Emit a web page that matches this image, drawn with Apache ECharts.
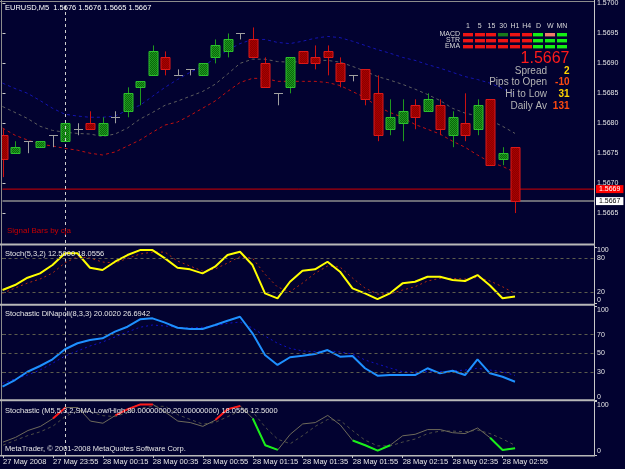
<!DOCTYPE html>
<html><head><meta charset="utf-8">
<script src="https://cdn.jsdelivr.net/npm/echarts@6/dist/echarts.min.js"></script>
<style>html,body{margin:0;padding:0;background:#020230;overflow:hidden}#c{width:625px;height:469px}</style>
</head><body><div id="c"></div>
<script>
// ---------- data ----------
const symbol = 'EURUSD', timeframe = 'M5';
const timeLabels = ['27 May 2008','27 May 23:55','28 May 00:15','28 May 00:35','28 May 00:55','28 May 01:15','28 May 01:35','28 May 01:55','28 May 02:15','28 May 02:35','28 May 02:55'];
const opens  = [1.5678,1.5675,1.5677,1.5676,1.5678,1.5677,1.5679,1.5680,1.5678,1.5681,1.5682,1.5686,1.5688,1.5691,1.5688,1.5689,1.5688,1.5691,1.5692,1.5695,1.5694,1.5690,1.5685,1.5686,1.5692,1.5691,1.5692,1.5690,1.5688,1.5689,1.5685,1.5679,1.5680,1.5683,1.5682,1.5683,1.5678,1.5680,1.5679,1.5684,1.5674,1.5676];
const highs  = [1.5679,1.5677,1.5677,1.5677,1.5678,1.5680,1.5680,1.5682,1.5681,1.5682,1.5686,1.5687,1.5693,1.5692,1.5689,1.5689,1.5690,1.5694,1.5695,1.5695,1.5696,1.5691,1.5685,1.5691,1.5692,1.5693,1.5693,1.5691,1.5688,1.5689,1.5688,1.5684,1.5684,1.5684,1.5685,1.5684,1.5682,1.5685,1.5684,1.5684,1.5676,1.5676];
const lows   = [1.5671,1.5675,1.5675,1.5676,1.5676,1.5677,1.5678,1.5679,1.5678,1.5680,1.5681,1.5683,1.5688,1.5688,1.5688,1.5688,1.5688,1.5690,1.5691,1.5694,1.5691,1.5686,1.5683,1.5685,1.5690,1.5689,1.5688,1.5686,1.5687,1.5683,1.5677,1.5678,1.5677,1.5679,1.5682,1.5678,1.5676,1.5677,1.5678,1.5673,1.5673,1.5665];
const closes = [1.5674,1.5676,1.5677,1.5677,1.5678,1.5680,1.5679,1.5679,1.5680,1.5681,1.5685,1.5687,1.5692,1.5689,1.5688,1.5689,1.5690,1.5693,1.5694,1.5695,1.5691,1.5686,1.5685,1.5691,1.5690,1.5690,1.5691,1.5687,1.5688,1.5684,1.5678,1.5681,1.5682,1.5681,1.5684,1.5679,1.5681,1.5678,1.5683,1.5673,1.5675,1.5667];
const bandUpper = [1.56867,1.56858,1.56850,1.56838,1.56825,1.56815,1.56812,1.56810,1.56810,1.56812,1.56822,1.56830,1.56845,1.56860,1.56873,1.56885,1.56895,1.56908,1.56922,1.56933,1.56940,1.56940,1.56935,1.56933,1.56937,1.56942,1.56945,1.56943,1.56937,1.56930,1.56923,1.56917,1.56910,1.56905,1.56898,1.56892,1.56885,1.56878,1.56873,1.56867,1.56858,1.56847];
const bandMiddle = [1.56828,1.56818,1.56808,1.56795,1.56788,1.56785,1.56783,1.56782,1.56778,1.56782,1.56792,1.56807,1.56818,1.56830,1.56837,1.56845,1.56853,1.56865,1.56882,1.56900,1.56907,1.56907,1.56903,1.56902,1.56903,1.56905,1.56905,1.56902,1.56895,1.56887,1.56878,1.56872,1.56865,1.56857,1.56848,1.56838,1.56825,1.56817,1.56812,1.56805,1.56795,1.56783];
const bandLower = [1.56792,1.56780,1.56772,1.56765,1.56762,1.56758,1.56755,1.56750,1.56747,1.56752,1.56762,1.56772,1.56785,1.56797,1.56802,1.56813,1.56825,1.56837,1.56853,1.56868,1.56875,1.56875,1.56870,1.56870,1.56870,1.56870,1.56868,1.56863,1.56853,1.56843,1.56828,1.56818,1.56810,1.56798,1.56790,1.56782,1.56770,1.56760,1.56747,1.56735,1.56728,1.56718];
const askPrice = 1.5669;
const stochMain   = [24.1,32.9,45.8,53.5,68.2,88.8,88.8,63.4,59.4,74.0,85.8,94.6,94.6,80.0,63.4,60.6,53.5,65.2,85.8,91.6,68.2,18.3,9.5,38.7,58.1,60.6,74.0,56.4,27.1,18.3,8.2,18.3,35.9,38.7,47.5,47.5,41.7,40.0,50.5,32.2,9.5,12.5];
const stochSignal = [18.3,27.6,36.4,43.5,54.0,72.2,82.8,80.5,73.5,71.7,80.0,87.6,91.0,91.0,75.2,66.4,57.6,61.1,71.7,82.8,80.5,52.0,29.4,21.1,36.4,53.5,66.4,64.7,45.3,27.6,17.0,17.0,24.1,29.9,40.0,44.7,44.7,43.5,46.5,40.0,29.9,18.0556];
const dinapoliMain   = [14.7,21.8,30.6,36.7,43.8,54.5,60.9,64.4,66.2,73.2,78.5,86.4,87.4,82.8,77.4,76.1,76.1,80.3,84.9,89.1,71.5,48.4,37.8,46.0,47.7,49.5,53.7,46.6,47.3,34.3,26.4,27.1,27.1,27.1,34.3,28.9,31.7,27.1,43.8,28.9,25.3,20.002];
const dinapoliSignal = [18.3,22.9,27.1,32.4,39.6,47.3,52.7,58.0,62.2,67.6,72.9,77.9,80.3,79.3,77.9,77.1,77.9,79.3,82.1,83.5,77.1,68.6,60.9,55.5,52.7,51.9,53.0,51.6,49.5,43.1,38.8,34.6,30.6,30.3,30.6,30.6,31.4,32.4,34.3,32.4,30.6,26.6942];
const overboughtRuns = [[4,5],[9,12],[17,19]];
const oversoldRuns   = [[20,22],[28,31],[39,41]];
const priceTicks = [1.5665,1.5670,1.5675,1.5680,1.5685,1.5690,1.5695,1.5700];
const stochLevels = [20,80];
const dinapoliLevels = [30,50,70];
const scaleTop = 100, scaleBottom = 0;
const timeTickBars = [0,4,8,12,16,20,24,28,32,36,40];
const tfLabels = ['1','5','15','30','H1','H4','D','W','MN'];
const rowLabels = ['MACD','STR','EMA'];
const macdSignals = ['down','down','down','upWeak','down','down','up','downWeak','up'];
const strSignals  = ['down','down','down','down','down','down','up','up','up'];
const emaSignals  = ['down','down','down','down','down','down','up','up','up'];
const infoLabels = ['Spread','Pips to Open','Hi to Low','Daily Av'];
const infoValues = ['2','-10','31','131'];

// ---------- styles ----------
const BG = '#020230';
const FONT = '"Liberation Sans", Arial, sans-serif';
const signalColors = {down:'#ee1414', up:'#14ee14', upWeak:'#1a7a1a', downWeak:'#f07a6a'};
const infoValueColors = ['#ffd400','#ff4a10','#ffd400','#ff4a10'];

function makePattern(a, b) {
  const cv = document.createElement('canvas'); cv.width = 2; cv.height = 2;
  const ctx = cv.getContext('2d');
  ctx.fillStyle = a; ctx.fillRect(0,0,2,2);
  ctx.fillStyle = b; ctx.fillRect(0,0,1,1); ctx.fillRect(1,1,1,1);
  return {image: cv, repeat: 'repeat'};
}
const greenFill = makePattern('#0a660a', '#1f9a1f');
const redFill = makePattern('#8a0000', '#aa0000');

const N = closes.length;
const XMAX = 591.5 / 12.5;
const pairs = arr => arr.map((v, i) => [i, v]);
function runData(runs) {
  const out = stochMain.map(() => '-');
  runs.forEach(([a, b]) => { for (let k = a; k <= b; k++) out[k] = stochMain[k]; });
  return out.map((v, i) => [i, v]);
}
const cellStates = [macdSignals, strSignals, emaSignals];
const cellData = [];
cellStates.forEach((row, r) => row.forEach((s, c) => cellData.push([c, r])));
const cellFlat = [].concat(...cellStates);

const vLine = {xAxis: 5, lineStyle: {color: '#cfcfcf', type: [3, 3], width: 1}};
const levelStyle = {color: '#5c5c4c', type: [3, 3], width: 1};

function hiddenX(gi) {
  return {type: 'value', gridIndex: gi, min: 0, max: XMAX, show: false};
}
function labelAxis(gi, values, vAlign) {
  return {
    type: 'value', gridIndex: gi, min: 0, max: 100, interval: 10, position: 'right', offset: 0,
    axisLine: {show: false}, splitLine: {show: false},
    axisTick: {show: values.length > 0, length: 3, customValues: values, lineStyle: {color: '#c8c8c8'}},
    axisLabel: {
      show: values.length > 0, customValues: values, color: '#e6e6e6', fontSize: 7, fontFamily: FONT, margin: 3,
      verticalAlign: vAlign, showMinLabel: true, showMaxLabel: true,
      formatter: v => values.indexOf(v) >= 0 ? String(v) : ''
    }
  };
}
function priceLevel(price, lineColor, lineWidth, boxColor, textColor) {
  return {
    type: 'line', xAxisIndex: 0, yAxisIndex: 0, z: 1, showSymbol: false, clip: false,
    data: [[0, price], [XMAX, price]],
    lineStyle: {color: lineColor, width: lineWidth},
    endLabel: {show: true, formatter: price.toFixed(4), backgroundColor: boxColor, color: textColor,
               fontSize: 7, fontFamily: FONT, padding: [1, 3, 0, 3], distance: 2}
  };
}

const option = {
  backgroundColor: BG,
  animation: false,
  grid: [
    {left: 2.5, top: 3, width: 591.5, height: 240},
    {left: 2.5, top: 247, width: 591.5, height: 56.7},
    {left: 2.5, top: 306.5, width: 591.5, height: 94},
    {left: 2.5, top: 401.5, width: 591.5, height: 53.5},
    {left: 462.1, top: 31.2, width: 105.75, height: 18}
  ],
  xAxis: [
    hiddenX(0), hiddenX(1), hiddenX(2),
    {
      type: 'value', gridIndex: 3, min: 0, max: XMAX, interval: 4, position: 'bottom',
      axisLine: {show: false}, splitLine: {show: false},
      axisTick: {show: true, length: 3, customValues: timeTickBars, lineStyle: {color: '#c8c8c8'}},
      axisLabel: {
        customValues: timeTickBars, color: '#e6e6e6', fontSize: 7.5, fontFamily: FONT, margin: 3, align: 'left',
        showMinLabel: true, showMaxLabel: true,
        formatter: v => { const k = timeTickBars.indexOf(v); return k >= 0 ? timeLabels[k] : ''; }
      }
    },
    {
      type: 'category', gridIndex: 4, data: tfLabels, position: 'top',
      axisLine: {show: false}, axisTick: {show: false}, splitLine: {show: false},
      axisLabel: {color: '#d8d8d8', fontSize: 7, fontFamily: FONT, margin: 2, interval: 0}
    }
  ],
  yAxis: [
    {
      type: 'value', gridIndex: 0, min: 1.566, max: 1.570, interval: 0.0005, position: 'right',
      axisLine: {show: false}, splitLine: {show: false},
      axisTick: {show: true, length: 3, customValues: priceTicks, lineStyle: {color: '#c8c8c8'}},
      axisLabel: {customValues: priceTicks, color: '#e6e6e6', fontSize: 7, fontFamily: FONT, margin: 3,
        showMinLabel: true, showMaxLabel: true, formatter: v => v.toFixed(4)}
    },
    labelAxis(1, stochLevels, 'middle'),        // 1 (stoch data)
    labelAxis(1, [scaleTop], 'top'),            // 2
    labelAxis(1, [scaleBottom], 'bottom'),      // 3
    labelAxis(2, dinapoliLevels, 'middle'),     // 4 (dinapoli data)
    labelAxis(2, [scaleTop], 'top'),            // 5
    labelAxis(2, [scaleBottom], 'bottom'),      // 6
    labelAxis(3, [], 'middle'),                 // 7 (m5 data)
    labelAxis(3, [scaleTop], 'top'),            // 8
    labelAxis(3, [scaleBottom], 'bottom'),      // 9
    {
      type: 'category', gridIndex: 4, data: rowLabels, inverse: true,
      axisLine: {show: false}, axisTick: {show: false}, splitLine: {show: false},
      axisLabel: {color: '#d8d8d8', fontSize: 7, fontFamily: FONT, margin: 2, interval: 0}
    }
  ],
  series: [
    // main price panel
    priceLevel(askPrice, '#d40000', 1, '#ff0000', '#ffffff'),
    priceLevel(closes[N - 1], '#8c8c8c', 1.5, '#ffffff', '#000000'),
    {type: 'line', xAxisIndex: 0, yAxisIndex: 0, data: pairs(bandUpper), showSymbol: false, z: 2,
     lineStyle: {color: '#1414b0', width: 1, type: [3, 3]},
     markLine: {silent: true, symbol: ['none', 'none'], label: {show: false}, data: [vLine]}},
    {type: 'line', xAxisIndex: 0, yAxisIndex: 0, data: pairs(bandMiddle), showSymbol: false, z: 2,
     lineStyle: {color: '#5e5e5e', width: 1, type: [3, 3]}},
    {type: 'line', xAxisIndex: 0, yAxisIndex: 0, data: pairs(bandLower), showSymbol: false, z: 2,
     lineStyle: {color: '#c01010', width: 1, type: [3, 3]}},
    {
      type: 'custom', xAxisIndex: 0, yAxisIndex: 0, clip: true, z: 3,
      data: opens.map((o, i) => [i, o, closes[i], lows[i], highs[i]]),
      encode: {x: 0, y: [1, 2, 3, 4]},
      renderItem: (params, api) => {
        const i = api.value(0), o = api.value(1), c = api.value(2), l = api.value(3), h = api.value(4);
        const po = api.coord([i, o]), pc = api.coord([i, c]), pl = api.coord([i, l]), ph = api.coord([i, h]);
        const bw = Math.round(api.size([0.72, 0])[0]);
        const x = Math.round(po[0]) + 0.5;
        const ch = [];
        if (o === c) {
          const y = Math.round(po[1]) + 0.5;
          ch.push({type: 'line', shape: {x1: x, y1: ph[1], x2: x, y2: pl[1]}, style: {stroke: '#a0a0a0', lineWidth: 1}});
          ch.push({type: 'line', shape: {x1: x - bw / 2, y1: y, x2: x + bw / 2, y2: y}, style: {stroke: '#a0a0a0', lineWidth: 1}});
        } else {
          const up = c > o;
          const top = Math.round(Math.min(po[1], pc[1])) + 0.5, bot = Math.round(Math.max(po[1], pc[1])) + 0.5;
          ch.push({type: 'line', shape: {x1: x, y1: ph[1], x2: x, y2: pl[1]}, style: {stroke: up ? '#1f9a1f' : '#cc1010', lineWidth: 1}});
          ch.push({type: 'rect', shape: {x: x - bw / 2, y: top, width: bw, height: Math.max(1, bot - top)},
                   style: {fill: up ? greenFill : redFill, stroke: up ? '#2cc02c' : '#dc1818', lineWidth: 1}});
        }
        return {type: 'group', children: ch};
      }
    },
    // Stoch(5,3,2)
    {type: 'line', xAxisIndex: 1, yAxisIndex: 1, data: pairs(stochSignal), showSymbol: false,
     lineStyle: {color: '#b02a10', width: 1, type: [2, 3]},
     markLine: {silent: true, symbol: ['none', 'none'], label: {show: false},
       data: stochLevels.map(v => ({yAxis: v, lineStyle: levelStyle})).concat([vLine])}},
    {type: 'line', xAxisIndex: 1, yAxisIndex: 1, data: pairs(stochMain), showSymbol: false,
     lineStyle: {color: '#ffff00', width: 2}},
    // Stochastic DiNapoli
    {type: 'line', xAxisIndex: 2, yAxisIndex: 4, data: pairs(dinapoliSignal), showSymbol: false,
     lineStyle: {color: '#1010c8', width: 1, type: [2, 3]},
     markLine: {silent: true, symbol: ['none', 'none'], label: {show: false},
       data: dinapoliLevels.map(v => ({yAxis: v, lineStyle: levelStyle})).concat([vLine])}},
    {type: 'line', xAxisIndex: 2, yAxisIndex: 4, data: pairs(dinapoliMain), showSymbol: false,
     lineStyle: {color: '#1e90ff', width: 2}},
    // Stochastic M5 coloured
    {type: 'line', xAxisIndex: 3, yAxisIndex: 7, data: pairs(stochSignal), showSymbol: false,
     lineStyle: {color: '#4e4e46', width: 1, type: [3, 3]},
     markLine: {silent: true, symbol: ['none', 'none'], label: {show: false}, data: [vLine]}},
    {type: 'line', xAxisIndex: 3, yAxisIndex: 7, data: pairs(stochMain), showSymbol: false,
     lineStyle: {color: '#6e6a5a', width: 1}},
    {type: 'line', xAxisIndex: 3, yAxisIndex: 7, data: runData(overboughtRuns), showSymbol: false, connectNulls: false,
     lineStyle: {color: '#ff1a1a', width: 2}},
    {type: 'line', xAxisIndex: 3, yAxisIndex: 7, data: runData(oversoldRuns), showSymbol: false, connectNulls: false,
     lineStyle: {color: '#1aee1a', width: 2}},
    // multi-timeframe signal cells
    {
      type: 'custom', xAxisIndex: 4, yAxisIndex: 10, data: cellData, encode: {x: 0, y: 1},
      renderItem: (params, api) => {
        const p = api.coord([api.value(0), api.value(1)]);
        return {type: 'rect', shape: {x: Math.round(p[0] - 5), y: Math.round(p[1] - 1.7), width: 10, height: 3.4},
                style: {fill: signalColors[cellFlat[params.dataIndex]]}};
      }
    }
  ],
  graphic: [
    // frame & separators
    {type: 'line', z: 50, shape: {x1: 0, y1: 1.5, x2: 594, y2: 1.5}, style: {stroke: '#8c8c8c', lineWidth: 1}},
    {type: 'line', z: 50, shape: {x1: 1.5, y1: 0, x2: 1.5, y2: 456}, style: {stroke: '#8c8c8c', lineWidth: 1}},
    {type: 'line', z: 50, shape: {x1: 594.5, y1: 0, x2: 594.5, y2: 456}, style: {stroke: '#c8c8c8', lineWidth: 1}},
    {type: 'rect', z: 50, shape: {x: 0, y: 243.5, width: 595, height: 2}, style: {fill: '#b8b8b8'}},
    {type: 'rect', z: 50, shape: {x: 0, y: 303.8, width: 595, height: 2}, style: {fill: '#b8b8b8'}},
    {type: 'rect', z: 50, shape: {x: 0, y: 399.3, width: 595, height: 2}, style: {fill: '#b8b8b8'}},
    {type: 'rect', z: 50, shape: {x: 0, y: 455, width: 595, height: 1.5}, style: {fill: '#b8b8b8'}},
    // texts
    {type: 'text', z: 60, style: {x: 5, y: 8, text: symbol + ',' + timeframe + '  ' + [opens[N-1], highs[N-1], lows[N-1], closes[N-1]].map(v => v.toFixed(4)).join(' '),
      fill: '#ffffff', font: '7.5px ' + FONT, verticalAlign: 'middle'}},
    {type: 'text', z: 60, style: {x: 7, y: 231, text: 'Signal Bars by cja', fill: '#c80000', font: '8px ' + FONT, verticalAlign: 'middle'}},
    {type: 'text', z: 60, style: {x: 5, y: 253.5, text: 'Stoch(5,3,2) ' + stochMain[N-1].toFixed(4) + ' ' + stochSignal[N-1].toFixed(4),
      fill: '#e6e6e6', font: '7.5px ' + FONT, verticalAlign: 'middle'}},
    {type: 'text', z: 60, style: {x: 5, y: 314, text: 'Stochastic DiNapoli(8,3,3) ' + dinapoliMain[N-1].toFixed(4) + ' ' + dinapoliSignal[N-1].toFixed(4),
      fill: '#e6e6e6', font: '7.5px ' + FONT, verticalAlign: 'middle'}},
    {type: 'text', z: 60, style: {x: 5, y: 410.5, text: 'Stochastic (M5,5,3,2,SMA,Low/High,80.00000000,20.00000000) ' + stochSignal[N-1].toFixed(4) + ' ' + stochMain[N-1].toFixed(4),
      fill: '#e6e6e6', font: '7.5px ' + FONT, verticalAlign: 'middle'}},
    {type: 'text', z: 60, style: {x: 5, y: 449, text: 'MetaTrader, \u00a9 2001-2008 MetaQuotes Software Corp.',
      fill: '#e6e6e6', font: '7.5px ' + FONT, verticalAlign: 'middle'}},
    {type: 'text', z: 60, style: {x: 569.5, y: 58.5, text: closes[N-1].toFixed(4), fill: '#ff1a1a', font: '16px ' + FONT, align: 'right', verticalAlign: 'middle'}}
  ].concat(
    infoLabels.map((t, k) => ({type: 'text', z: 60, style: {x: 547, y: 71 + k * 11.6, text: t, fill: '#b4b4b4', font: '10px ' + FONT, align: 'right', verticalAlign: 'middle'}})),
    infoValues.map((t, k) => ({type: 'text', z: 60, style: {x: 569.5, y: 71 + k * 11.6, text: t, fill: infoValueColors[k], font: 'bold 10px ' + FONT, align: 'right', verticalAlign: 'middle'}}))
  )
};

const chart = echarts.init(document.getElementById('c'), null, {renderer: 'canvas'});
chart.setOption(option);
</script>
</body></html>
